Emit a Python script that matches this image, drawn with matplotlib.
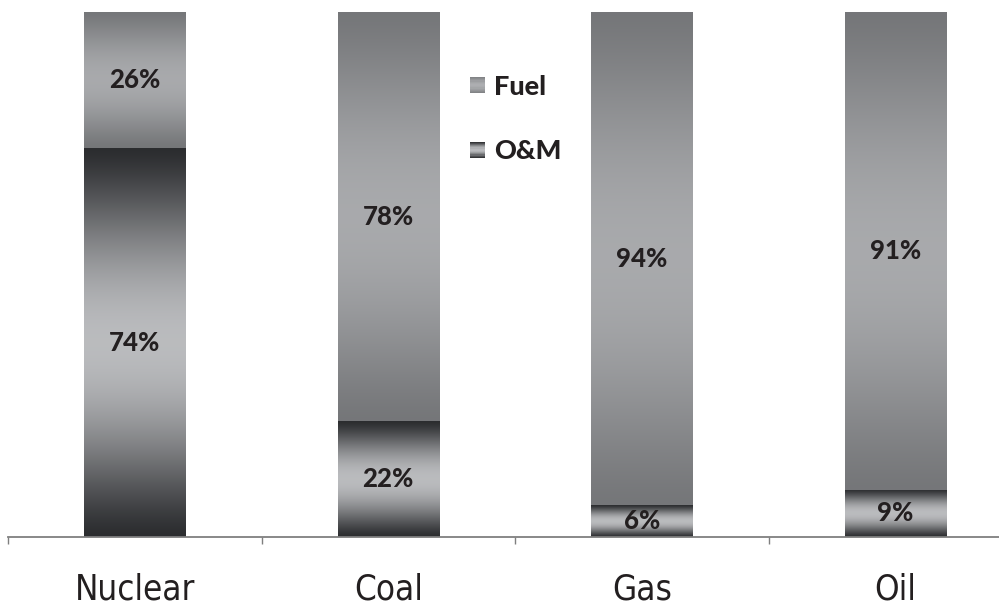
#!/usr/bin/env python3
# Share of fuel vs O&M in generating cost, stacked to 100% with shaded bars.
import matplotlib
matplotlib.use("Agg")
import matplotlib.pyplot as plt
import numpy as np
from matplotlib.legend_handler import HandlerBase
from matplotlib.patches import Rectangle

categories = ['Nuclear', 'Coal', 'Gas', 'Oil']
om_share = [74, 22, 6, 9]
fuel_share = [26, 78, 94, 91]

TEXT = '#231f20'
# edge / middle grey levels of the vertical shading
OM_SHADE = (0.17, 0.73)
FUEL_SHADE = (0.46, 0.66)


def shade(t, edge, mid):
    v = edge + (mid - edge) * np.sin(np.pi * t) ** 1.3
    return np.stack([v, v + 0.005, v + 0.015], axis=-1).clip(0, 1)


def fill_gradient(ax, patch, edge, mid):
    x0, y0 = patch.get_x(), patch.get_y()
    w, h = patch.get_width(), patch.get_height()
    t = np.linspace(0, 1, 200)
    img = shade(t, edge, mid)[:, None, :]
    ax.imshow(img, extent=[x0, x0 + w, y0, y0 + h], origin='lower',
              aspect='auto', interpolation='bilinear', zorder=2)


class GradientHandler(HandlerBase):
    def __init__(self, edge, mid):
        super().__init__()
        self.edge, self.mid = edge, mid

    def create_artists(self, legend, orig_handle, xdescent, ydescent,
                       width, height, fontsize, trans):
        n = 14
        arts = []
        for i in range(n):
            c = shade((i + 0.5) / n, self.edge, self.mid)
            arts.append(Rectangle((-xdescent, -ydescent + height * i / n),
                                  width, height / n * 1.05, facecolor=c,
                                  edgecolor='none', transform=trans))
        return arts


fig = plt.figure(figsize=(9.99, 6.07), dpi=100)
ax = fig.add_axes([8 / 999, 70 / 607, 1014 / 999, 525 / 607])

x = np.arange(len(categories))
om_bars = ax.bar(x, om_share, width=0.40, color='none', edgecolor='none')
fuel_bars = ax.bar(x, fuel_share, width=0.40, bottom=om_share,
                   color='none', edgecolor='none')

for p in om_bars:
    fill_gradient(ax, p, *OM_SHADE)
for p in fuel_bars:
    fill_gradient(ax, p, *FUEL_SHADE)

pct_font = dict(family=['Lato', 'DejaVu Sans'], fontweight='black',
                fontsize=18.5, color=TEXT, ha='center', va='center', zorder=3)
for i in range(len(categories)):
    ax.text(x[i], om_share[i] / 2, f'{om_share[i]}%', **pct_font)
    ax.text(x[i], om_share[i] + fuel_share[i] / 2, f'{fuel_share[i]}%',
            **pct_font)

ax.set_xlim(-0.5, len(categories) - 0.5)
ax.set_ylim(0, 100)

for s in ('top', 'right', 'left'):
    ax.spines[s].set_visible(False)
ax.spines['bottom'].set_color('#7f7f7f')
ax.spines['bottom'].set_linewidth(1.3)
ax.set_yticks([])

ax.set_xticks(x)
ax.set_xticklabels(categories, family='DejaVu Sans', fontstretch='condensed',
                   fontsize=25, color=TEXT)
ax.tick_params(axis='x', which='major', length=0, pad=25.5)
ax.set_xticks(np.arange(-0.5, len(categories), 1.0), minor=True)
ax.tick_params(axis='x', which='minor', length=5, width=1.0,
               color='#7f7f7f', direction='out')

handles = [Rectangle((0, 0), 1, 1), Rectangle((0, 0), 1, 1)]
leg = fig.legend(handles, ['Fuel', 'O&M'], loc='center left',
                 bbox_to_anchor=(470 / 999, 1 - 119 / 607),
                 frameon=False, borderpad=0, borderaxespad=0,
                 handlelength=0.55, handleheight=0.55, handletextpad=0.35,
                 labelspacing=1.5,
                 prop=dict(family=['Lato', 'DejaVu Sans'], weight='black', size=19.5),
                 handler_map={handles[0]: GradientHandler(0.50, 0.68),
                              handles[1]: GradientHandler(*OM_SHADE)})
for t in leg.get_texts():
    t.set_color(TEXT)

fig.savefig('out.png', dpi=100)
